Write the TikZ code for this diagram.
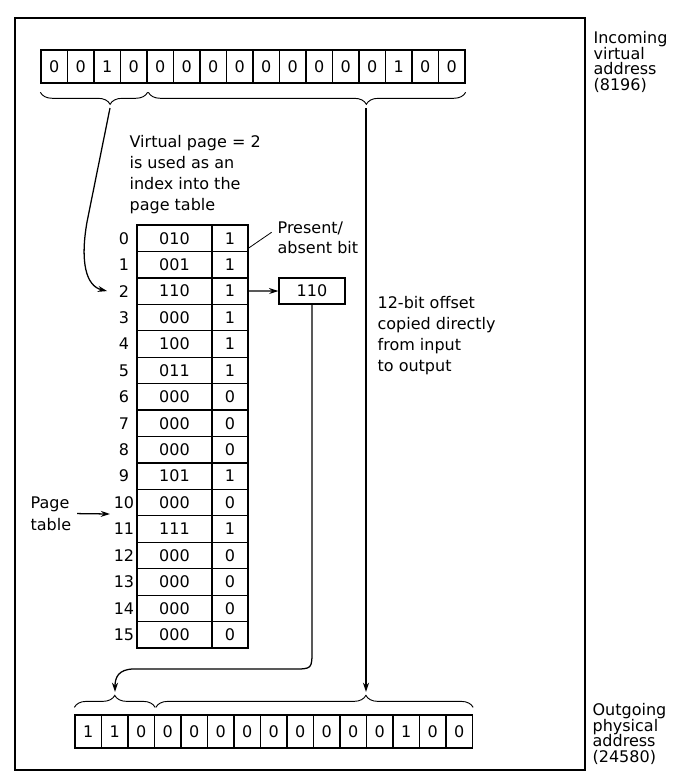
\documentclass[tikz,border=0pt]{standalone}
\usepackage{fontspec}
\setmainfont{DejaVu Sans}
\usetikzlibrary{positioning,decorations.pathreplacing,arrows.meta}
\lineskiplimit=-20pt
\tikzset{
  bitcell/.style={draw, minimum width=19.875pt, minimum height=24.75pt, inner sep=0pt},
  pagecell/.style={draw, minimum width=56.25pt, minimum height=19.83pt, inner sep=0pt},
  flagcell/.style={draw, minimum width=27pt, minimum height=19.83pt, inner sep=0pt},
  note/.style={align=left, inner sep=0pt, anchor=north west, font=\fontsize{12}{#1}\selectfont},
  note/.default=15.75pt,
  topbrace/.style={decorate, line width=0.7pt, decoration={brace, mirror, amplitude=9pt, aspect=#1}},
  botbrace/.style={decorate, line width=0.7pt, decoration={brace, amplitude=9pt, aspect=#1}},
}
\begin{document}
\begin{tikzpicture}[x=0.75pt, y=-0.75pt, >={Stealth[length=7pt,width=4.5pt]}, line width=0.95pt, font=\fontsize{12}{15}\selectfont]
    \useasboundingbox (0,0) rectangle (678,776);
    \draw[line width=0.8pt] (15,18) rectangle (585,770);

    % incoming virtual address
    \node[bitcell] (in0) at (54.25,66.5) {0};
    \foreach \b [count=\i, remember=\i as \p (initially 0)] in {0,1,0,0,0,0,0,0,0,0,0,0,1,0,0}
        \node[bitcell, node distance=19.875pt, right of=in\p] (in\i) {\b};
    \draw[topbrace=0.65] ([yshift=-6.5pt]in0.south west) -- ([yshift=-6.5pt]in3.south east);
    \draw[topbrace=0.687] ([xshift=1.5pt,yshift=-6.5pt]in4.south west) -- ([yshift=-6.5pt]in15.south east);
    \coordinate (pgsel) at (110,108);
    \coordinate (ofssel) at (366,108);
    \node[note=11.6pt] (inlbl) at (593,31) {Incoming\\virtual\\address\\(8196)};

    % page table
    \node[pagecell] (pf0) at (174.5,238.2) {010};
    \foreach \f [count=\i, remember=\i as \p (initially 0)] in {001,110,000,100,011,000,000,000,101,000,111,000,000,000,000}
        \node[pagecell, node distance=19.83pt, below of=pf\p] (pf\i) {\f};
    \foreach \b [count=\i from 0] in {1,1,1,1,1,1,0,0,0,1,0,1,0,0,0,0}
        \node[flagcell, node distance=41.625pt, right of=pf\i] (pb\i) {\b};
    \foreach \i in {0,...,15}
        \node[node distance=37.9pt, left of=pf\i] (row\i) {\i};

    \node[note] (vpage) at (129,135) {Virtual page = 2\\is used as an\\index into the\\page table};
    \node[note=15pt] (presbit) at (277,221) {Present/\\absent bit};
    \draw[line width=0.6pt] ([yshift=3pt]pb0.south east) -- ([xshift=-4pt,yshift=4pt]presbit.west);
    \node[note=16.5pt] (ptname) at (30,496) {Page\\table};
    \coordinate (ptarrow) at (110,514);
    \draw[->] ([xshift=4pt]ptname.east) -- (ptarrow);

    % physical page frame
    \node[draw, minimum width=49.5pt, minimum height=19.5pt, inner sep=0pt] (pframe) at (312,291) {110};
    \draw[->] (pb2.east) -- (pframe.west);

    \node[note] (ofslbl) at (377,296) {12-bit offset\\copied directly\\from input\\to output};

    % outgoing physical address
    \node[bitcell] (out0) at (88.25,731.5) {1};
    \foreach \b [count=\i, remember=\i as \p (initially 0)] in {1,0,0,0,0,0,0,0,0,0,0,1,0,0}
        \node[bitcell, node distance=19.875pt, right of=out\p] (out\i) {\b};
    \draw[botbrace=0.5] ([yshift=5.25pt]out0.north west) -- ([yshift=5.25pt]out2.north east);
    \draw[botbrace=0.662] ([xshift=1.5pt,yshift=5.25pt]out3.north west) -- ([yshift=5.25pt]out14.north east);
    \coordinate (pgout) at (115,692);
    \coordinate (ofsout) at (366,692);
    \node[note=11.6pt] (outlbl) at (592,703) {Outgoing\\physical\\address\\(24580)};

    % connections
    \draw[->] (pgsel) -- (87,222) .. controls (80,262) and (86,286) .. ([xshift=-5pt]row2.west);
    \draw[->] (ofssel) -- (ofsout);
    \draw[->] (pframe.south) -- (312,650) .. controls (312,669) .. (293,669) -- (134,669) .. controls (118,669) and (115,678) .. (pgout);
\end{tikzpicture}
\end{document}
